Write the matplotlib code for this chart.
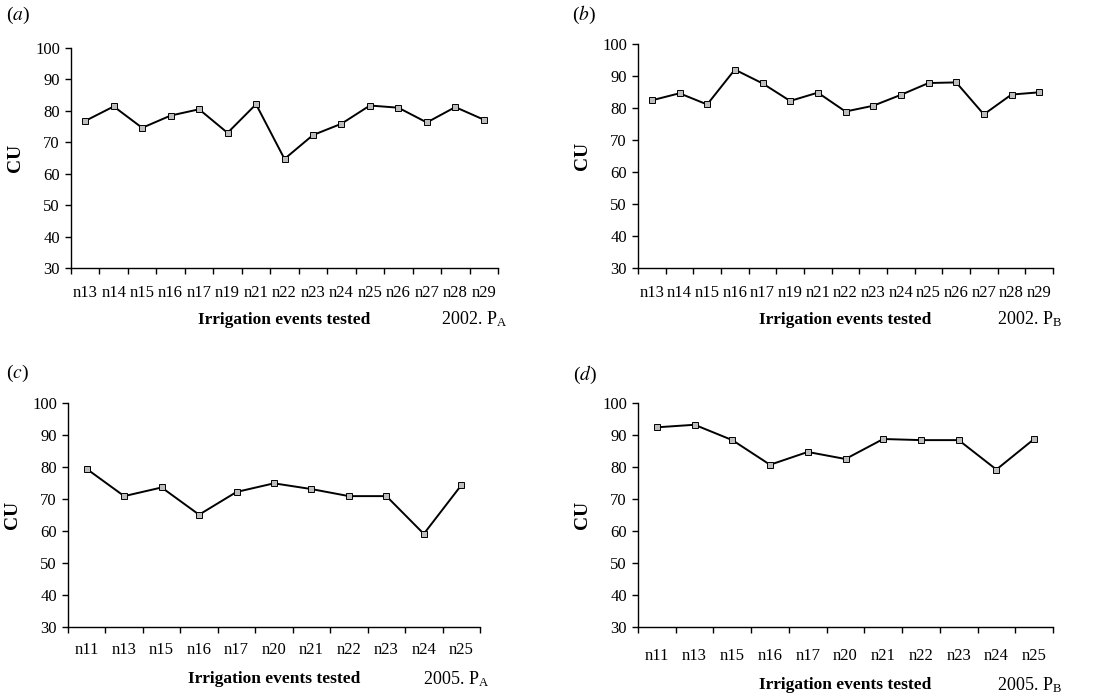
import matplotlib
matplotlib.use("Agg")
import matplotlib.pyplot as plt

plt.rcParams["font.family"] = ["Liberation Serif", "DejaVu Serif"]
plt.rcParams["mathtext.fontset"] = "stix"

# panel (a): 2002, plot A
events_2002 = ["n13", "n14", "n15", "n16", "n17", "n19", "n21", "n22",
               "n23", "n24", "n25", "n26", "n27", "n28", "n29"]
cu_2002_a = [76.8, 81.4, 74.6, 78.5, 80.5, 73.0, 82.1, 64.7,
             72.3, 75.9, 81.7, 81.0, 76.3, 81.2, 77.2]
# panel (b): 2002, plot B
cu_2002_b = [82.4, 84.6, 81.1, 92.0, 87.7, 82.2, 84.8, 78.9,
             80.7, 84.1, 87.8, 88.0, 78.0, 84.2, 84.9]

# panels (c), (d): 2005
events_2005 = ["n11", "n13", "n15", "n16", "n17", "n20", "n21", "n22",
               "n23", "n24", "n25"]
cu_2005_a = [79.4, 70.9, 73.6, 65.1, 72.2, 74.9, 73.1, 70.9, 70.9, 59.1, 74.3]
cu_2005_b = [92.4, 93.2, 88.4, 80.7, 84.7, 82.5, 88.75, 88.4, 88.4, 79.2, 88.75]

W, H = 1117, 694

PANELS = [
    # letter, events, values, tag, (left, top, right, bottom) px, tick pad, xlabel pad, letter pos
    ("a", events_2002, cu_2002_a, "2002. P$_\\mathregular{A}$", (71, 48, 498, 268), 12, 8, (6, 15)),
    ("b", events_2002, cu_2002_b, "2002. P$_\\mathregular{B}$", (638, 44, 1053, 268), 12, 8, (572, 15)),
    ("c", events_2005, cu_2005_a, "2005. P$_\\mathregular{A}$", (68, 403, 480, 627), 11, 9.5, (6, 373)),
    ("d", events_2005, cu_2005_b, "2005. P$_\\mathregular{B}$", (638, 403, 1053, 627), 15, 9.5, (573, 375)),
]


def draw_panel(fig, events, values, box, tick_pad, label_pad):
    l, t, r, b = box
    ax = fig.add_axes([l / W, (H - b) / H, (r - l) / W, (b - t) / H])
    xs = list(range(len(events)))
    ax.plot(xs, values, color="black", linewidth=1.4, marker="s", markersize=5,
            markerfacecolor="#bdbdbd", markeredgecolor="black", markeredgewidth=0.7)

    ax.set_ylim(30, 100)
    ax.set_yticks(range(30, 101, 10))
    ax.set_xlim(-0.5, len(events) - 0.5)
    # boundary ticks as major, labels centred on categories as minor
    ax.set_xticks([i - 0.5 for i in range(len(events) + 1)])
    ax.set_xticklabels([])
    ax.set_xticks(xs, minor=True)
    ax.set_xticklabels(events, minor=True)
    ax.tick_params(axis="x", which="major", direction="out", length=4, width=1)
    ax.tick_params(axis="x", which="minor", length=0, pad=tick_pad, labelsize=12)
    ax.tick_params(axis="y", direction="out", length=4, width=1, pad=4, labelsize=12)

    for side in ("top", "right"):
        ax.spines[side].set_visible(False)
    for side in ("left", "bottom"):
        ax.spines[side].set_linewidth(1)

    ax.set_ylabel("CU", fontsize=14, fontweight="bold", labelpad=8)
    ax.set_xlabel("Irrigation events tested", fontsize=12.5, fontweight="bold",
                  labelpad=label_pad)
    return ax


fig = plt.figure(figsize=(W / 100, H / 100), dpi=100)

axes = []
for letter, events, values, tag, box, tick_pad, label_pad, pos in PANELS:
    axes.append(draw_panel(fig, events, values, box, tick_pad, label_pad))

fig.canvas.draw()
for ax, (letter, events, values, tag, box, tick_pad, label_pad, pos) in zip(axes, PANELS):
    # year tag sits on the same line as the x label, at the right end
    bb = ax.xaxis.label.get_window_extent()
    ycen = (bb.y0 + bb.y1) / 2
    fig.text((box[2] + 9) / W, ycen / H, tag, ha="right", va="center", fontsize=13)
    px, py = pos
    fig.text(px / W, (H - py) / H, "($\\mathit{%s}$)" % letter,
             ha="left", va="center", fontsize=14)

fig.savefig("out.png", dpi=100)
